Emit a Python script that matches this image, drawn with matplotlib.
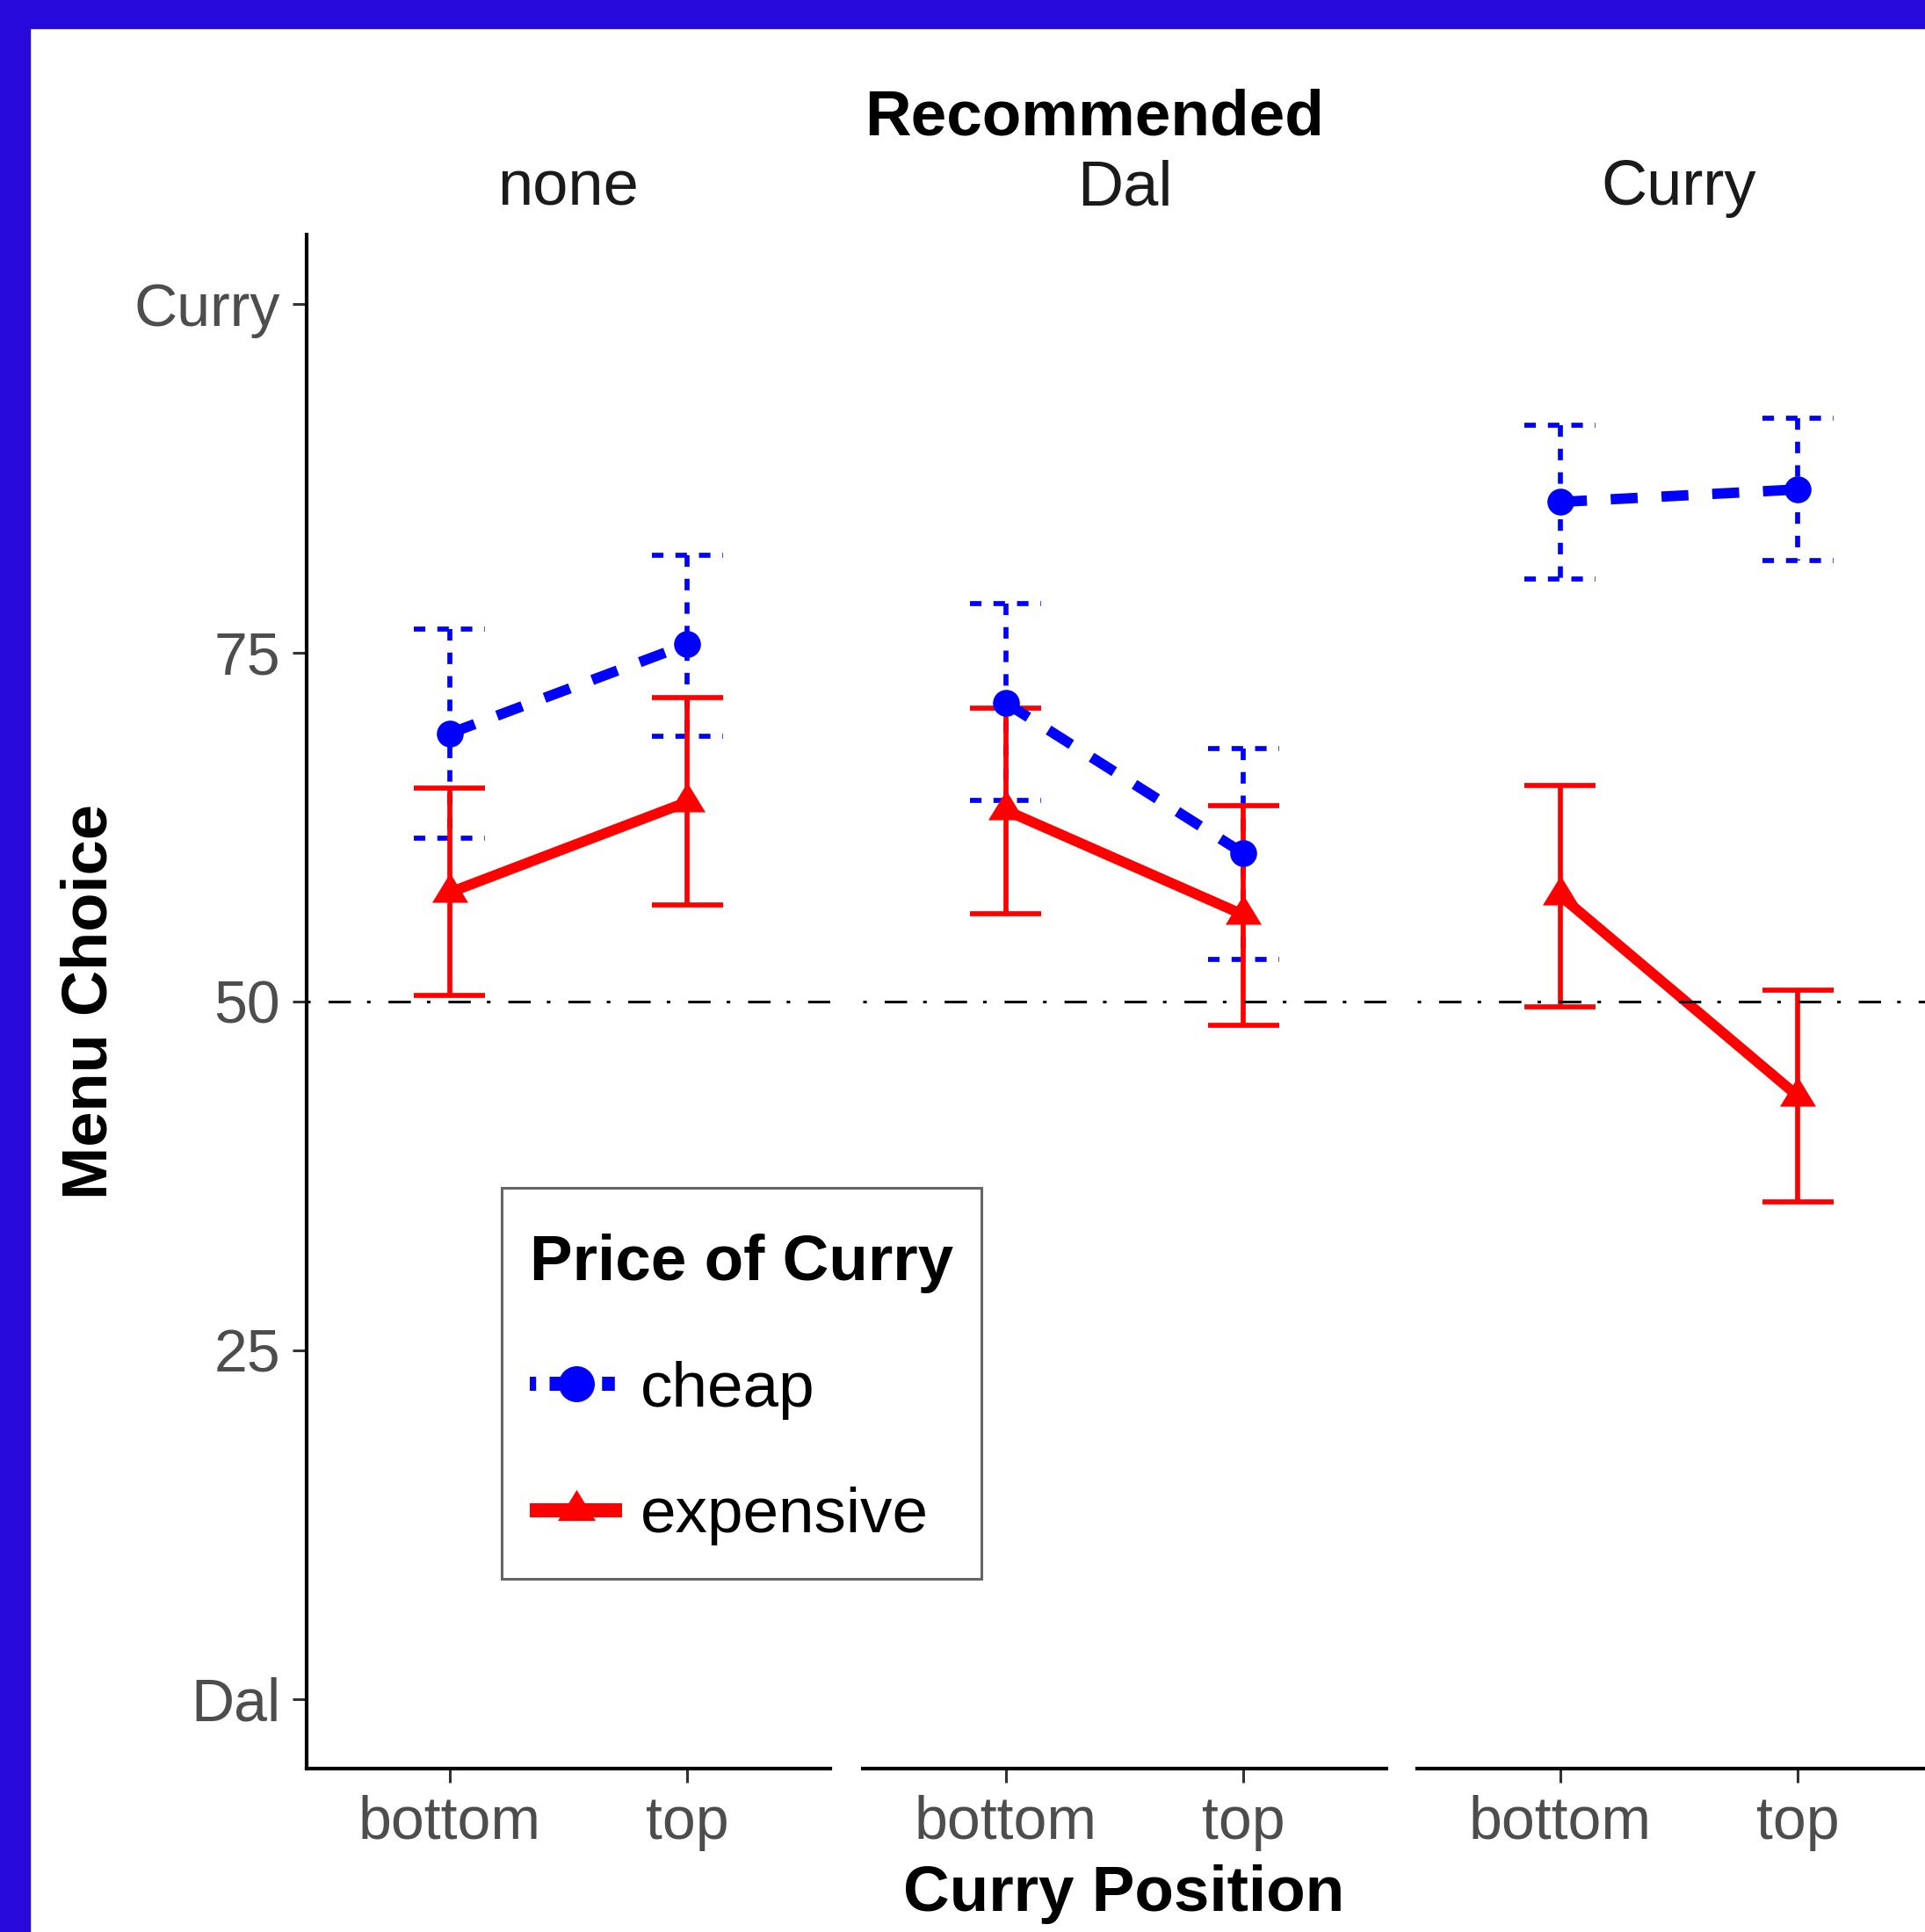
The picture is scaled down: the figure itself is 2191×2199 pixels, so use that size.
import matplotlib
matplotlib.use('Agg')
import matplotlib.pyplot as plt
from matplotlib.lines import Line2D
from matplotlib.patches import Rectangle
import numpy as np

# facets / x levels / groups
recommended = ['none', 'Dal', 'Curry']
positions = ['bottom', 'top']
prices = ['cheap', 'expensive']

# mean menu choice and error bar limits, one row per facet (bottom, top)
cheap_mean = [[69.2, 75.6], [71.4, 60.6], [85.8, 86.7]]
cheap_low = [[61.7, 69.0], [64.4, 53.0], [80.3, 81.6]]
cheap_high = [[76.7, 82.0], [78.5, 68.1], [91.3, 91.8]]
exp_mean = [[57.8, 64.3], [63.7, 56.2], [57.6, 43.2]]
exp_low = [[50.4, 56.9], [56.3, 48.3], [49.6, 35.6]]
exp_high = [[65.3, 71.8], [71.0, 64.0], [65.5, 50.8]]

y_ticks = [0, 25, 50, 75, 100]
y_ticklabels = ['Dal', '25', '50', '75', 'Curry']
ref_line = 50

plt.rcParams['font.family'] = ['Liberation Sans', 'DejaVu Sans']

W, H = 2191, 2199
fig = plt.figure(figsize=(W / 100, H / 100), dpi=100)
fig.patch.set_facecolor('white')

# blue frame round the picture (top and left edges)
border = '#260ADC'
fig.patches.append(Rectangle((0, 1 - 32 / H), 1, 32 / H, transform=fig.transFigure,
                             color=border, zorder=10))
fig.patches.append(Rectangle((0, 0), 34 / W, 1, transform=fig.transFigure,
                             color=border, zorder=10))

tri = [(-0.5, -0.27), (0.5, -0.27), (0, 0.55)]
series = [
    dict(mean=cheap_mean, low=cheap_low, high=cheap_high, color='#0000FF', marker='o',
         ms=22, ls=(0, (2.6, 2.3)), err_ls=(0, (2.3, 2.4))),
    dict(mean=exp_mean, low=exp_low, high=exp_high, color='#FF0000', marker=tri,
         ms=32.5, ls='-', err_ls='-'),
]

panel_left = [349, 982, 1613]
panel_w = 596
panel_top, panel_bottom = 266.5, 2013
x = np.arange(1, len(positions) + 1)
cap = 0.15

for i, name in enumerate(recommended):
    ax = fig.add_axes([panel_left[i] / W, 1 - panel_bottom / H, panel_w / W,
                       (panel_bottom - panel_top) / H])
    ax.set_facecolor('none')
    ax.set_xlim(0.4, 2.6)
    ax.set_ylim(-5, 105)

    for k, s in enumerate(series):
        z = 2 + 0.1 * k
        for j in range(len(positions)):
            hi, lo = s['high'][i][j], s['low'][i][j]
            kw = dict(color=s['color'], lw=4.1, linestyle=s['err_ls'],
                      solid_capstyle='butt', dash_capstyle='butt', zorder=z)
            ax.plot([x[j] - cap, x[j] + cap], [hi, hi], **kw)
            ax.plot([x[j], x[j]], [hi, lo], **kw)
            ax.plot([x[j] - cap, x[j] + cap], [lo, lo], **kw)
    for s in series:
        ax.plot(x, s['mean'][i], color=s['color'], lw=8.5, linestyle=s['ls'],
                solid_capstyle='butt', dash_capstyle='butt', zorder=3)
        ax.plot(x, s['mean'][i], linestyle='none', marker=s['marker'], ms=s['ms'],
                mfc=s['color'], mec='none', zorder=4)

    ax.axhline(ref_line, color='black', lw=2.2,
               linestyle=(0, (1.33, 6.67, 8.33, 6.0)), zorder=5)

    ax.spines['top'].set_visible(False)
    ax.spines['right'].set_visible(False)
    ax.spines['bottom'].set_linewidth(3)
    ax.spines['left'].set_linewidth(3)
    ax.set_xticks(x)
    ax.set_xticklabels(positions)
    ax.set_yticks(y_ticks)
    ax.set_yticklabels(y_ticklabels)
    ax.tick_params(length=11.5, width=2.2, color='#333333', labelsize=49,
                   labelcolor='#4d4d4d', pad=10)
    if i > 0:
        ax.spines['left'].set_visible(False)
        ax.tick_params(left=False, labelleft=False)

    ax.text(0.5, (panel_bottom - 233) / (panel_bottom - panel_top), name,
            transform=ax.transAxes, ha='center', va='baseline', fontsize=52,
            color='#1a1a1a')

fig.text(1246 / W, 1 - 154 / H, 'Recommended', ha='center', va='baseline',
         fontsize=52.5, fontweight='bold')
fig.text((panel_left[0] + panel_left[2] + panel_w) / 2 / W, 1 - 2175 / H, 'Curry Position',
         ha='center', va='baseline', fontsize=52.5, fontweight='bold')
fig.text(122 / W, 1 - 1140 / H, 'Menu Choice', rotation=90, rotation_mode='anchor',
         ha='center', va='baseline', fontsize=52, fontweight='bold')

# legend frame drawn separately, legend content placed inside it
fig.patches.append(Rectangle((571 / W, 1 - 1797 / H), (1117 - 571) / W, (1797 - 1352) / H,
                             transform=fig.transFigure, facecolor='white',
                             edgecolor='#666666', lw=2.2, zorder=4))
handles = [
    Line2D([], [], color='#0000FF', lw=11.5, linestyle=(0.46, (0.91, 0.96)),
           dash_capstyle='butt', marker='o', ms=29.5, mec='none'),
    Line2D([], [], color='#FF0000', lw=11.5, solid_capstyle='butt',
           marker=tri, ms=34, mec='none'),
]
leg = fig.legend(handles, prices, title='Price of Curry', loc='upper left',
                 bbox_to_anchor=(603 / W, 1 - 1404 / H), borderaxespad=0,
                 frameon=False, fontsize=52.5,
                 title_fontproperties={'weight': 'bold', 'size': 52.5},
                 alignment='left', handlelength=1.44, handletextpad=0.29,
                 borderpad=0, labelspacing=1.05, numpoints=1)
leg.set_zorder(6)

fig.savefig('out.png', dpi=100)
